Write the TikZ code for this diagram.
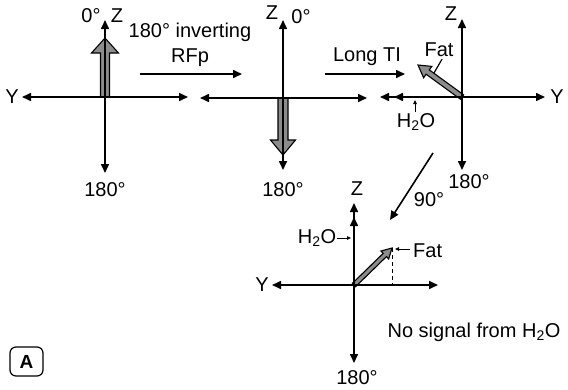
\documentclass[tikz,border=0pt]{standalone}
\usepackage{fontspec}
\setmainfont{Liberation Sans}
\usetikzlibrary{arrows.meta,calc}
\newcommand\fatvec[5]{%
  \coordinate (fvN) at ($(#2)!#5!(#1)$);
  \draw[fatstyle] ($(#1)!#3!90:(#2)$) -- ($(fvN)!#3!90:(#2)$) -- ($(fvN)!#4!90:(#2)$)
    -- (#2) -- ($(fvN)!#4!-90:(#2)$) -- ($(fvN)!#3!-90:(#2)$) -- ($(#1)!#3!-90:(#2)$) -- cycle;}
\begin{document}
\begin{tikzpicture}[x=1pt,y=-1pt,
  tip/.tip={Triangle[length=9pt,width=8pt]},
  axis/.style={line width=1.6pt,{tip}-{tip}},
  dbl/.tip={Triangle[length=9pt,width=8pt,sep=5pt]Triangle[length=9pt,width=8pt]},
  pulse/.style={line width=1.6pt,-{tip}},
  small/.style={line width=0.8pt,-{Triangle[length=4pt,width=3.5pt]}},
  fatstyle/.style={draw=black,line width=1.1pt,fill=black!45,line join=miter},
  lbl/.style={inner sep=0pt,font=\fontsize{20}{23}\selectfont}]
\useasboundingbox (0,0) rectangle (568,389);
% ---------- diagram 1 ----------
\coordinate (O1) at (105,97);
\coordinate (L1) at (22,97); \coordinate (R1) at (188,97);
\coordinate (T1) at (105,20); \coordinate (B1) at (105,173);
\coordinate (F1) at (105,38);
\fatvec{O1}{F1}{4.5pt}{13.5pt}{15pt}
\draw[axis] (L1) -- (R1);
\draw[axis] (T1) -- (B1);
\node[lbl] (y1) at (12,97) {Y};
\node[lbl] (d1) at (91,16) {0°};
\node[lbl] (z1) at (117,16) {Z};
\node[lbl] (b1) at (105,190) {180°};
% inverting pulse
\node[lbl,align=center,font=\fontsize{20}{25}\selectfont] (inv) at (190,45) {180° inverting\\RFp};
\coordinate (p1a) at (140,74); \coordinate (p1b) at (242,74);
\draw[pulse] (p1a) -- (p1b);
% ---------- diagram 2 ----------
\coordinate (O2) at (283,98);
\coordinate (L2) at (200,98); \coordinate (R2) at (367,98);
\coordinate (T2) at (283,20); \coordinate (B2) at (283,170);
\coordinate (F2) at (283,155);
\fatvec{O2}{F2}{5pt}{12.5pt}{15pt}
\draw[axis] (L2) -- (R2);
\draw[axis] (T2) -- (B2);
\node[lbl] (z2) at (272,13) {Z};
\node[lbl] (d2) at (301,17) {0°};
\node[lbl] (b2) at (283,190) {180°};
% long TI
\node[lbl] (lti) at (367,57) {Long TI};
\coordinate (p2a) at (325,74); \coordinate (p2b) at (405,74);
\draw[pulse] (p2a) -- (p2b);
% ---------- diagram 3 ----------
\coordinate (O3) at (462,97);
\coordinate (L3) at (380,97); \coordinate (R3) at (545,97);
\coordinate (T3) at (462,19); \coordinate (B3) at (462,170);
\coordinate (F3) at (418,65);
\fatvec{O3}{F3}{2.7pt}{7pt}{12pt}
\draw[line width=1.6pt,{dbl}-{tip}] (L3) -- (R3);
\draw[axis] (T3) -- (B3);
\node[lbl] (z3) at (451,14) {Z};
\node[lbl] (y3) at (557,97) {Y};
\node[lbl] (b3) at (469,182) {180°};
\node[lbl] (fat3) at (439,50) {Fat};
\coordinate (fl3) at (434,73);
\draw[line width=1.2pt] (fat3.south) ++(3,2) -- (fl3);
\node[lbl] (h3) at (416,122) {H\textsubscript{2}O};
\coordinate (h3t) at (415,100);
\draw[small] (h3.north -| h3t) ++(0,-1) -- (h3t);
% 90 degree pulse
\coordinate (p3a) at (433,153); \coordinate (p3b) at (390,220);
\draw[pulse] (p3a) -- (p3b);
\node[lbl] (n90) at (429,200) {90°};
% ---------- diagram 4 ----------
\coordinate (O4) at (354,285);
\coordinate (L4) at (272,285); \coordinate (R4) at (438,285);
\coordinate (T4) at (354,203); \coordinate (B4) at (354,363);
\coordinate (F4) at (392,248);
\coordinate (F4b) at (392,285);
\draw[line width=1pt,dashed,dash pattern=on 4pt off 3pt] (F4) -- (F4b);
\fatvec{O4}{F4}{2.3pt}{5.5pt}{10pt}
\draw[axis] (L4) -- (R4);
\draw[line width=1.6pt,{tip}-{dbl}] (B4) -- (T4);
\node[lbl] (z4) at (357,189) {Z};
\node[lbl] (y4) at (262,285) {Y};
\node[lbl] (b4) at (357,378) {180°};
\node[lbl] (h4) at (317,238) {H\textsubscript{2}O};
\coordinate (h4t) at (351,238);
\draw[small] (h4.east) ++(1,0) -- (h4t);
\node[lbl,anchor=west] (fat4) at (413,251) {Fat};
\coordinate (f4t) at (395,249);
\draw[small] (fat4.west |- f4t) ++(-3,0) -- (f4t);
\node[lbl] (nos) at (474,332) {No signal from H\textsubscript{2}O};
% ---------- label A ----------
\node[draw,line width=1.2pt,rounded corners=6pt,minimum width=33pt,minimum height=29pt,
  inner sep=0pt,font=\fontsize{19}{22}\selectfont\bfseries] (A) at (26.5,361.5) {A};
\end{tikzpicture}
\end{document}
